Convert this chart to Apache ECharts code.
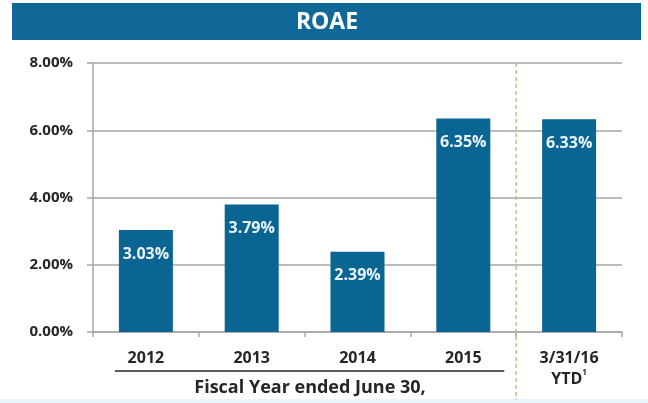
<!DOCTYPE html>
<html>
<head>
<meta charset="utf-8">
<script src="https://cdn.jsdelivr.net/npm/echarts@6/dist/echarts.min.js"></script>
<style>
  html, body { margin: 0; padding: 0; background: #ffffff; }
  #chart { width: 648px; height: 403px; }
</style>
</head>
<body>
<div id="chart"></div>
<script>
// ROAE by fiscal year, plus year-to-date figure
const categories = ['2012', '2013', '2014', '2015', '3/31/16'];
const roaeValues = [3.03, 3.79, 2.39, 6.35, 6.33];
const yTicks = [0, 2, 4, 6, 8];
const titleText = 'ROAE';
const footerText = 'Fiscal Year ended June 30,';

const FONT = '"Open Sans", "Liberation Sans", sans-serif';
const BAR = '#0b6593';

const chart = echarts.init(document.getElementById('chart'), null, { renderer: 'canvas' });

chart.setOption({
  animation: false,
  backgroundColor: '#ffffff',
  grid: { left: 93, right: 26, top: 63, bottom: 71 },
  xAxis: {
    type: 'category',
    data: categories,
    boundaryGap: true,
    axisLine: { lineStyle: { color: '#a6a6a6', width: 1.5 } },
    axisTick: { show: true, length: 5, lineStyle: { color: '#a6a6a6', width: 1.5 } },
    axisLabel: {
      margin: 16,
      formatter: function (v, i) {
        if (i === categories.length - 1) return '{a|' + v + '}\n{a|YTD}{s|1}';
        return '{a|' + v + '}';
      },
      rich: {
        a: { fontFamily: FONT, fontWeight: 'bold', fontSize: 16, color: '#262626', lineHeight: 21 },
        s: { fontFamily: FONT, fontWeight: 'bold', fontSize: 8, color: '#262626', lineHeight: 21, verticalAlign: 'top', padding: [0, 0, 6, 0] }
      }
    }
  },
  yAxis: {
    type: 'value',
    min: yTicks[0],
    max: yTicks[yTicks.length - 1],
    interval: 2,
    axisLine: { show: true, lineStyle: { color: '#a6a6a6', width: 1.5 } },
    axisTick: { show: true, length: 6, lineStyle: { color: '#a6a6a6', width: 1.5 } },
    splitLine: { lineStyle: { color: '#a6a6a6', width: 1.5 } },
    axisLabel: {
      margin: 20,
      fontFamily: FONT, fontWeight: 'bold', fontSize: 15, color: '#262626',
      formatter: v => v.toFixed(2) + '%'
    }
  },
  series: [{
    type: 'bar',
    data: roaeValues,
    barWidth: 54,
    itemStyle: { color: BAR },
    label: {
      show: true,
      position: 'insideTop',
      distance: 16,
      fontFamily: FONT, fontWeight: 'bold', fontSize: 16, color: '#eaf5fb',
      formatter: p => p.value.toFixed(2) + '%'
    }
  }]
});

// Decorations placed from the axis scale: title band, separator, group underline and caption
const c3 = chart.convertToPixel({ xAxisIndex: 0 }, categories[3]);
const c4 = chart.convertToPixel({ xAxisIndex: 0 }, categories[4]);
const c0 = chart.convertToPixel({ xAxisIndex: 0 }, categories[0]);
const sepX = (c3 + c4) / 2;
const topY = chart.convertToPixel({ yAxisIndex: 0 }, yTicks[yTicks.length - 1]);

chart.setOption({
  graphic: [
    { type: 'rect', shape: { x: 12, y: 3, width: 629, height: 37 }, style: { fill: '#0f6898' }, z: 10 },
    { type: 'text', x: 327, y: 22, style: { text: titleText, fill: '#ffffff', font: 'bold 23px ' + FONT, textAlign: 'center', textVerticalAlign: 'middle' }, z: 11 },
    { type: 'line', shape: { x1: sepX, y1: topY, x2: sepX, y2: 400 }, style: { stroke: '#c8b98f', lineWidth: 1.5, lineDash: [4, 3] }, z: 5 },
    { type: 'line', shape: { x1: c0 - 31, y1: 371, x2: c3 + 41, y2: 371 }, style: { stroke: '#262626', lineWidth: 1.5 }, z: 5 },
    { type: 'text', x: 310, y: 388, style: { text: footerText, fill: '#262626', font: 'bold 18px ' + FONT, textAlign: 'center', textVerticalAlign: 'middle' }, z: 5 },
    { type: 'rect', shape: { x: 0, y: 399, width: 648, height: 4 }, style: { fill: '#e8f7fb' }, z: 1 }
  ]
});
</script>
</body>
</html>
